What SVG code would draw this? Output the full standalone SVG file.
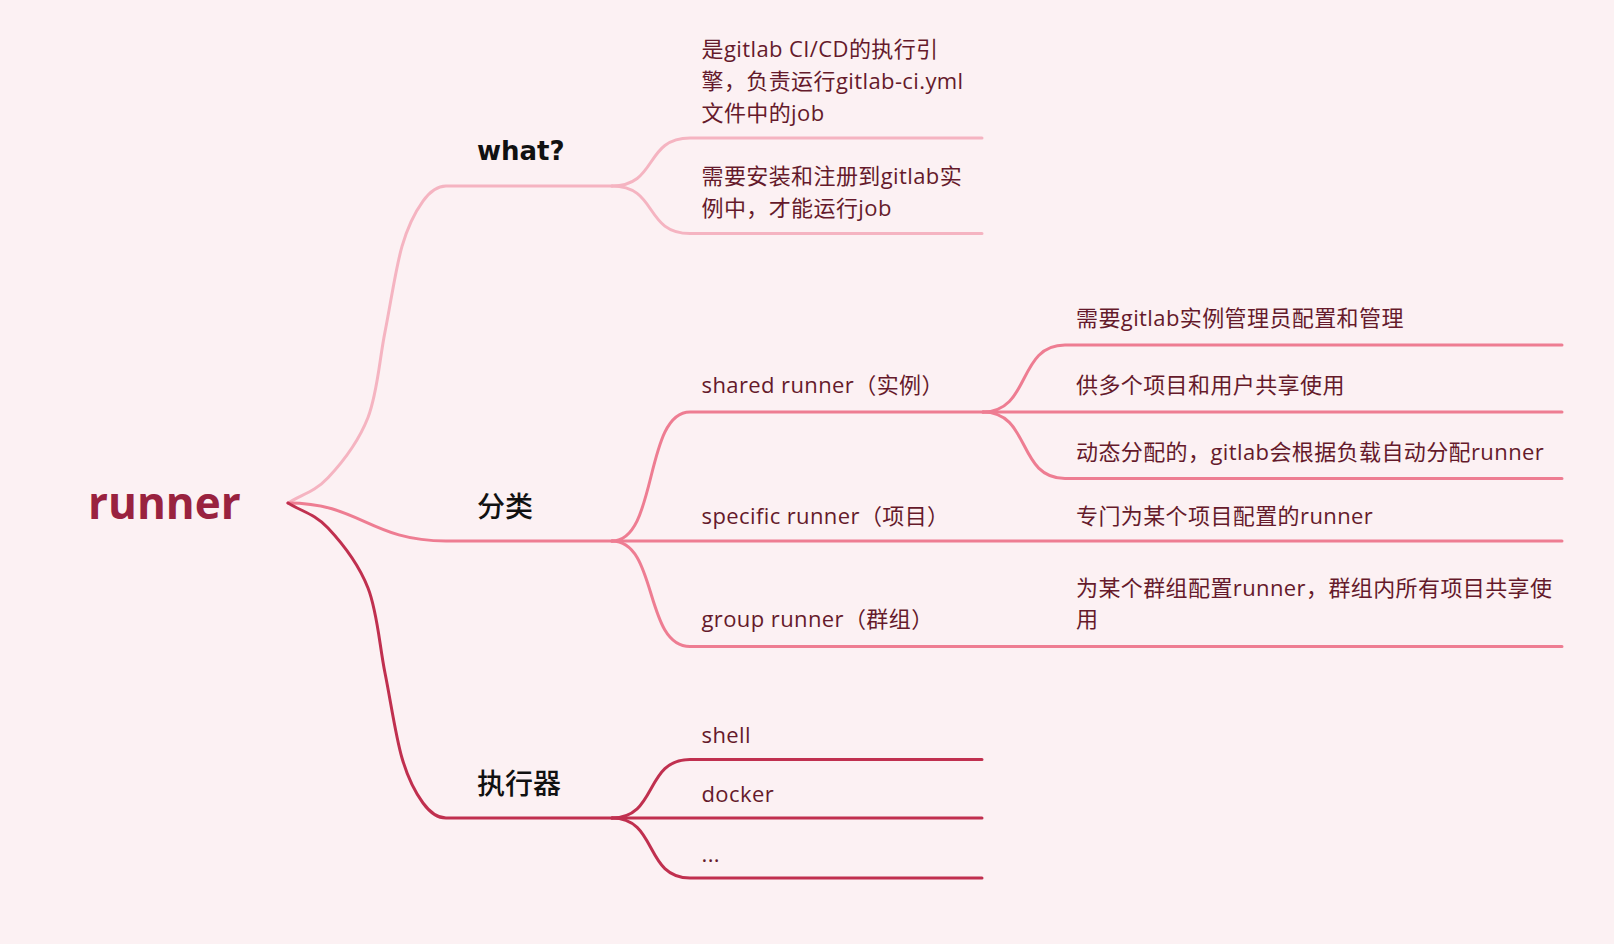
<svg xmlns="http://www.w3.org/2000/svg" width="1614" height="944" viewBox="0 0 1614 944">
<style>
  .bg { fill: #fcf1f3; }
  .c { fill: none; stroke-width: 3; stroke-linecap: round; stroke-linejoin: round; }
  .c1 { stroke: #f5b4c1; }
  .c2 { stroke: #ee7d92; }
  .c3 { stroke: #c0304f; }
  .root { font-family: 'Open Sans', 'Noto Sans CJK SC', sans-serif; font-weight: 700; font-size: 44px; fill: #99223f; }
  .main { font-family: 'DejaVu Sans', 'Noto Sans CJK SC', sans-serif; font-weight: 700; font-size: 26px; fill: #111111; }
  .main-cjk { font-family: 'Noto Sans CJK SC', sans-serif; font-weight: 500; font-size: 28px; fill: #111111; }
  .sub { font-family: 'Open Sans', 'Noto Sans CJK SC', sans-serif; font-size: 22px; letter-spacing: 0.4px; fill: #651a2b; }
</style>
<rect class="bg" x="0" y="0" width="1614" height="944"/>

<g id="connectors">
  <!-- root to main branches -->
  <path class="c c1" d="M288,503 C301.3,494.6 314.7,492.1 328,477.8 C341.3,463.6 358.5,441.8 368,417.5 C377.5,393.1 379.3,360.4 385,331.9 C390.7,303.4 395.7,268.2 402,246.4 C408.3,224.5 415.7,211.2 423,201.1 C430.3,191 438.3,186 446,186 L612,186"/>
  <path class="c c2" d="M288,503 C360,503 370,541 446,541 L612,541"/>
  <path class="c c3" d="M288,503 C301.3,511.3 314.7,513.8 328,528 C341.3,542.2 358.5,563.8 368,588 C377.5,612.2 379.3,644.7 385,673 C390.7,701.3 395.7,736.3 402,758 C408.3,779.7 415.7,793 423,803 C430.3,813 438.3,818 446,818 L612,818"/>
  <!-- what? children -->
  <path class="c c1" d="M612,186 C658,186 644,138 690,138 L982,138"/>
  <path class="c c1" d="M612,186 C658,186 644,233.5 690,233.5 L982,233.5"/>
  <!-- 分类 children -->
  <path class="c c2" d="M612,541 C658,541 644,412 690,412 L983,412"/>
  <path class="c c2" d="M612,541 L1562,541"/>
  <path class="c c2" d="M612,541 C658,541 644,646.5 690,646.5 L1562,646.5"/>
  <!-- shared runner children -->
  <path class="c c2" d="M983,412 C1031,412 1017,345 1065,345 L1562,345"/>
  <path class="c c2" d="M983,412 L1562,412"/>
  <path class="c c2" d="M983,412 C1031,412 1017,478.5 1065,478.5 L1562,478.5"/>
  <!-- 执行器 children -->
  <path class="c c3" d="M612,818 C658,818 644,759.5 690,759.5 L982,759.5"/>
  <path class="c c3" d="M612,818 L982,818"/>
  <path class="c c3" d="M612,818 C658,818 644,878 690,878 L982,878"/>
</g>

<g id="node-root"><text class="root" x="88" y="519">runner</text></g>

<g id="node-what"><text class="main" x="477" y="159.5">what?</text></g>
<g id="node-what-1">
  <text class="sub" x="701.5" y="56.5">是gitlab CI/CD的执行引</text>
  <text class="sub" x="701.5" y="88.5">擎，负责运行gitlab-ci.yml</text>
  <text class="sub" x="701.5" y="120.5">文件中的job</text>
</g>
<g id="node-what-2">
  <text class="sub" x="701.5" y="184">需要安装和注册到gitlab实</text>
  <text class="sub" x="701.5" y="215.5">例中，才能运行job</text>
</g>

<g id="node-category"><text class="main-cjk" x="477" y="517">分类</text></g>
<g id="node-shared"><text class="sub" x="701.5" y="392.5">shared runner（实例）</text></g>
<g id="node-shared-1"><text class="sub" x="1076" y="326">需要gitlab实例管理员配置和管理</text></g>
<g id="node-shared-2"><text class="sub" x="1076" y="393">供多个项目和用户共享使用</text></g>
<g id="node-shared-3"><text class="sub" x="1076" y="460">动态分配的，gitlab会根据负载自动分配runner</text></g>
<g id="node-specific"><text class="sub" x="701.5" y="523.5">specific runner（项目）</text></g>
<g id="node-specific-1"><text class="sub" x="1076" y="523.5">专门为某个项目配置的runner</text></g>
<g id="node-group"><text class="sub" x="701.5" y="626.5">group runner（群组）</text></g>
<g id="node-group-1">
  <text class="sub" x="1076" y="595.5">为某个群组配置runner，群组内所有项目共享使</text>
  <text class="sub" x="1076" y="626.5">用</text>
</g>

<g id="node-executor"><text class="main-cjk" x="477" y="794">执行器</text></g>
<g id="node-shell"><text class="sub" x="701.5" y="743">shell</text></g>
<g id="node-docker"><text class="sub" x="701.5" y="801.5">docker</text></g>
<g id="node-more"><text class="sub" x="701.5" y="861.5">...</text></g>
</svg>
